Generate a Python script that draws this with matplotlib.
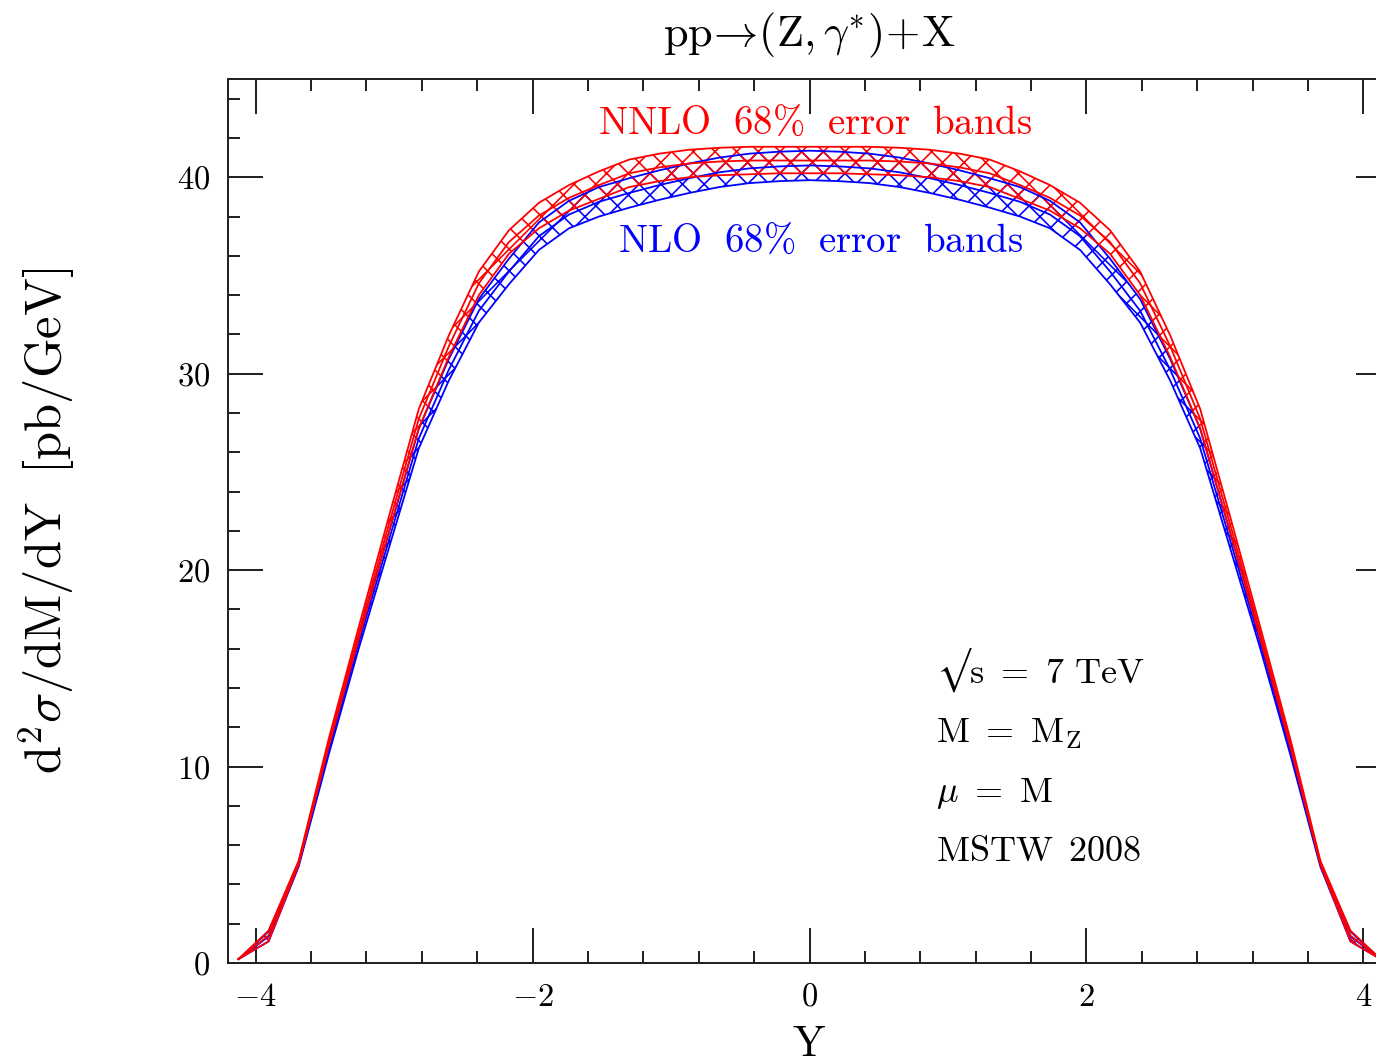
import matplotlib
matplotlib.use("Agg")
import matplotlib.pyplot as plt
from matplotlib.ticker import MultipleLocator

# rapidity grid
Y = [-4.124, -3.907, -3.690, -3.473, -3.256, -3.039, -2.822, -2.605, -2.388, -2.171,
     -1.954, -1.737, -1.520, -1.302, -1.085, -0.868, -0.651, -0.434, -0.217, 0.0,
     0.217, 0.434, 0.651, 0.868, 1.085, 1.302, 1.520, 1.737, 1.954, 2.171,
     2.388, 2.605, 2.822, 3.039, 3.256, 3.473, 3.690, 3.907, 4.124]

# NNLO band (central, upper, lower)
nnlo_c = [0.2, 1.4, 5.1, 11.2, 16.8, 22.3, 27.7, 31.4, 34.6, 36.7,
          38.05, 38.95, 39.6, 40.2, 40.5, 40.7, 40.8, 40.85, 40.85, 40.85,
          40.85, 40.85, 40.8, 40.7, 40.5, 40.2, 39.6, 38.95, 38.05, 36.7,
          34.6, 31.4, 27.7, 22.3, 16.8, 11.2, 5.1, 1.4, 0.2]
nnlo_hi = [0.2, 1.65, 5.2, 11.4, 17.1, 22.7, 28.2, 31.95, 35.2, 37.3,
           38.7, 39.6, 40.3, 40.9, 41.2, 41.4, 41.5, 41.55, 41.55, 41.55,
           41.55, 41.55, 41.5, 41.4, 41.2, 40.9, 40.3, 39.6, 38.7, 37.3,
           35.2, 31.95, 28.2, 22.7, 17.1, 11.4, 5.2, 1.65, 0.2]
nnlo_lo = [0.2, 1.1, 5.0, 11.0, 16.5, 21.9, 27.2, 30.85, 34.0, 36.1,
           37.4, 38.3, 38.9, 39.5, 39.8, 40.0, 40.1, 40.15, 40.2, 40.2,
           40.2, 40.15, 40.1, 40.0, 39.8, 39.5, 38.9, 38.3, 37.4, 36.1,
           34.0, 30.85, 27.2, 21.9, 16.5, 11.0, 5.0, 1.1, 0.2]

# NLO band (central, upper, lower)
nlo_c = [0.2, 1.35, 5.0, 10.8, 16.3, 21.5, 26.7, 30.2, 33.2, 35.2,
         37.0, 38.1, 38.75, 39.2, 39.6, 39.95, 40.25, 40.45, 40.55, 40.6,
         40.55, 40.45, 40.25, 39.95, 39.6, 39.2, 38.75, 38.1, 37.0, 35.2,
         33.2, 30.2, 26.7, 21.5, 16.3, 10.8, 5.0, 1.35, 0.2]
nlo_hi = [0.2, 1.6, 5.1, 11.0, 16.6, 21.9, 27.2, 30.75, 33.8, 35.85,
          37.7, 38.8, 39.5, 39.95, 40.35, 40.7, 41.0, 41.2, 41.3, 41.35,
          41.3, 41.2, 41.0, 40.7, 40.35, 39.95, 39.5, 38.8, 37.7, 35.85,
          33.8, 30.75, 27.2, 21.9, 16.6, 11.0, 5.1, 1.6, 0.2]
nlo_lo = [0.2, 1.1, 4.9, 10.6, 16.0, 21.1, 26.2, 29.65, 32.6, 34.55,
          36.3, 37.4, 38.0, 38.45, 38.85, 39.2, 39.5, 39.7, 39.8, 39.85,
          39.8, 39.7, 39.5, 39.2, 38.85, 38.45, 38.0, 37.4, 36.3, 34.55,
          32.6, 29.65, 26.2, 21.1, 16.0, 10.6, 4.9, 1.1, 0.2]

plt.rcParams['font.family'] = 'cmr10'
plt.rcParams['mathtext.fontset'] = 'cm'
plt.rcParams['axes.formatter.use_mathtext'] = True
plt.rcParams['hatch.linewidth'] = 0.9

DPI = 130
fig = plt.figure(figsize=(1376 / DPI, 1063 / DPI), dpi=DPI)
ax = fig.add_axes([228 / 1376, 100 / 1063, (1391 - 228) / 1376, 884 / 1063])

# blue (NLO) first, red (NNLO) on top
for c, hi, lo, col in [(nlo_c, nlo_hi, nlo_lo, 'blue'), (nnlo_c, nnlo_hi, nnlo_lo, 'red')]:
    ax.fill_between(Y, lo, hi, facecolor='none', edgecolor=col, hatch='xx', linewidth=0)
    ax.plot(Y, hi, color=col, lw=1.0)
    ax.plot(Y, lo, color=col, lw=1.0)
    ax.plot(Y, c, color=col, lw=1.0)

ax.set_xlim(-4.2, 4.2)
ax.set_ylim(0, 45)
ax.xaxis.set_major_locator(MultipleLocator(2))
ax.xaxis.set_minor_locator(MultipleLocator(0.4))
ax.yaxis.set_major_locator(MultipleLocator(10))
ax.yaxis.set_minor_locator(MultipleLocator(2))
ax.tick_params(which='both', direction='in', top=True, right=True, width=1.1,
               labelsize=18, color='#222222')
ax.tick_params(which='major', length=19.5)
ax.tick_params(which='minor', length=6.5)
ax.tick_params(axis='x', pad=11)
ax.tick_params(axis='y', pad=10)
for sp in ax.spines.values():
    sp.set_linewidth(1.1)
    sp.set_color('#222222')

ax.text(0.04, 42.2, r'$\mathrm{NNLO\ \ 68\%\ \ error\ \ bands}$', color='red',
        fontsize=21.5, ha='center', va='baseline')
ax.text(0.08, 36.2, r'$\mathrm{NLO\ \ 68\%\ \ error\ \ bands}$', color='blue',
        fontsize=21.5, ha='center', va='baseline')

ax.text(0.917, 14.25, '$\u221a\\mathrm{s\\ =\\ 7\\ TeV}$', fontsize=20, va='baseline')
ax.text(0.917, 11.2, r'$\mathrm{M\ =\ M_Z}$', fontsize=20, va='baseline')
ax.text(0.917, 8.2, r'$\mu\ =\ \mathrm{M}$', fontsize=20, va='baseline')
ax.text(0.917, 5.2, r'$\mathrm{MSTW\ \,2008}$', fontsize=20, va='baseline')

fig.text(809 / 1376, 1 - 35 / 1063,
         r'$\mathrm{pp}\!\rightarrow\!(\mathrm{Z},\gamma^{*})\!+\!\mathrm{X}$',
         fontsize=24.5, ha='center', va='center')
fig.text(809 / 1376, 1 - 1045 / 1063, r'$\mathrm{Y}$', fontsize=24,
         ha='center', va='center')
fig.text(47 / 1376, 1 - 521 / 1063,
         r'$\mathrm{d}^2\sigma/\mathrm{dM/dY\ \ [pb/GeV]}$', fontsize=28,
         rotation=90, ha='center', va='center')

fig.savefig('out.png', dpi=DPI)
